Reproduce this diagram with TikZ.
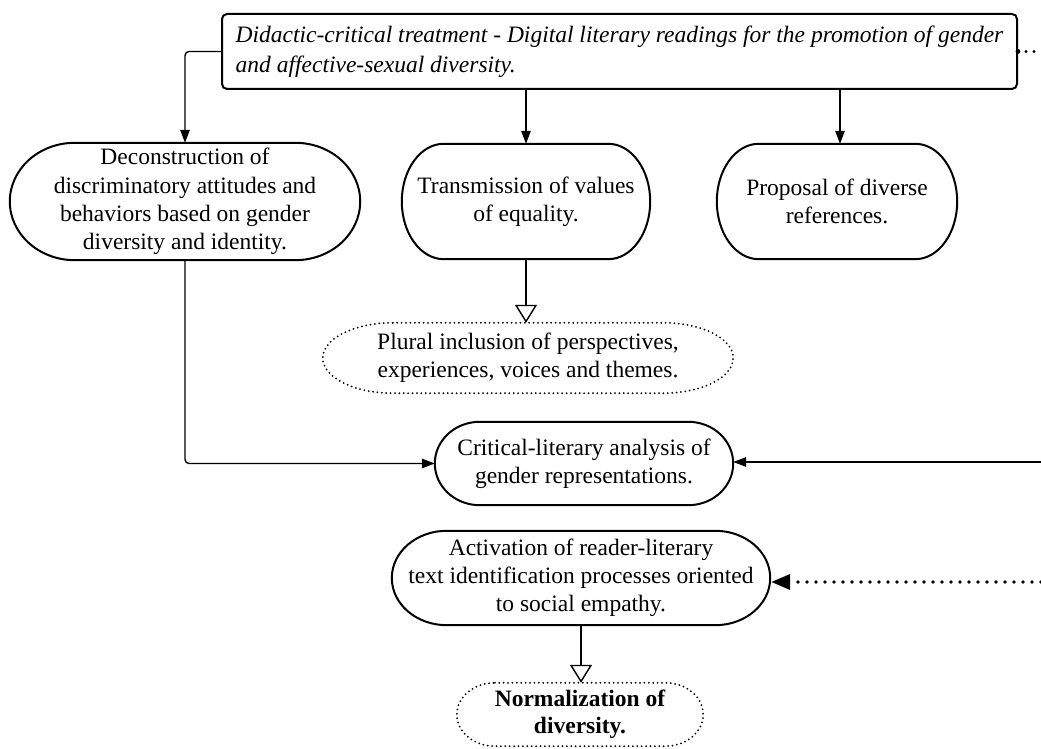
\documentclass[tikz,border=0pt]{standalone}
\usepackage{fontspec}
\setmainfont{Liberation Serif}
\usetikzlibrary{arrows.meta,calc}
\newcommand\pillpath[3][]{%
  \draw[shp,#1] let \p1=(#2.north west), \p2=(#2.south east), \n1={(\y1-\y2)/2} in
    (\x1+#3,\y1) -- (\x2-#3,\y1) arc[start angle=90,end angle=-90,x radius=#3,y radius=\n1]
    -- (\x1+#3,\y2) arc[start angle=270,end angle=90,x radius=#3,y radius=\n1] -- cycle;}
\begin{document}
\begin{tikzpicture}[x=1pt,y=1pt,
  txt/.style={font=\fontsize{23.5}{28.2}\selectfont, align=center, inner sep=0pt},
  shp/.style={line width=2pt, line join=round},
  dotshape/.style={line width=2pt, line cap=round, dash pattern=on 0pt off 4.4pt},
  conn/.style={line width=1.4pt, -{Triangle[length=13pt,width=9.5pt]}},
  openarr/.style={line width=1.4pt, -{Triangle[open,length=18pt,width=22pt,fill=white]}},
  dotarr/.style={line width=3.6pt, line cap=round, dash pattern=on 0pt off 9pt, -{Triangle[length=19pt,width=15pt]}}
]
\useasboundingbox (0,0) rectangle (1041,749);

% nodes
\node[txt, draw, line width=2pt, rounded corners=5pt, minimum width=795pt, minimum height=75pt, align=left,
  font=\fontsize{23.5}{30}\selectfont\itshape] (top) at (619.5,697.5)
  {Didactic-critical treatment - Digital literary readings for the promotion of gender\\and affective-sexual diversity.};

\node[txt, minimum width=350pt, minimum height=117pt] (decon) at (185,547.5)
  {Deconstruction of\\discriminatory attitudes and\\behaviors based on gender\\diversity and identity.};
\node[txt, minimum width=248pt, minimum height=115pt] (trans) at (526,547.5)
  {Transmission of values\\of equality.};
\node[txt, minimum width=240pt, minimum height=115pt] (prop) at (837,547.5)
  {Proposal of diverse\\references.};
\node[txt, minimum width=410pt, minimum height=70pt] (plural) at (528,391)
  {Plural inclusion of perspectives,\\experiences, voices and themes.};
\node[txt, minimum width=298pt, minimum height=83pt] (crit) at (584,285.5)
  {Critical-literary analysis of\\gender representations.};
\node[txt, minimum width=378pt, minimum height=94pt] (activ) at (581,171)
  {Activation of reader-literary\\text identification processes oriented\\to social empathy.};
\node[txt, minimum width=246pt, minimum height=63pt, font=\fontsize{23.5}{27.5}\selectfont\bfseries] (norm) at (580,34.5)
  {Normalization of\\diversity.};

% shapes
\pillpath{decon}{65pt}
\pillpath{trans}{42pt}
\pillpath{prop}{42pt}
\pillpath[dotshape]{plural}{70pt}
\pillpath{crit}{45pt}
\pillpath{activ}{55pt}
\pillpath[dotshape]{norm}{38pt}

% free ends
\coordinate (eTop) at (1041,697.5);
\coordinate (eCrit) at (1041,287);
\coordinate (eAct) at (1041,167);

% connectors
\draw[conn, rounded corners=4pt] (top.west) -| (decon.north);
\draw[conn] (top.south -| trans.north) -- (trans.north);
\draw[conn] ([xshift=3pt]top.south -| prop.north) -- ([xshift=3pt]prop.north);
\draw[openarr] (trans.south) -- (trans.south |- plural.north);
\draw[conn, rounded corners=4pt] (decon.south) |- (crit.west);
\draw[conn] (eCrit) -- (eCrit -| crit.east);
\draw[dotarr] (eAct) -- ([xshift=1pt]eAct -| activ.east);
\draw[openarr] (activ.south) -- (activ.south |- norm.north);
\draw[line width=3.4pt, line cap=round, dash pattern=on 0pt off 8pt] (top.east) -- (eTop);
\fill (top.east) circle (2.4pt);
\end{tikzpicture}
\end{document}
